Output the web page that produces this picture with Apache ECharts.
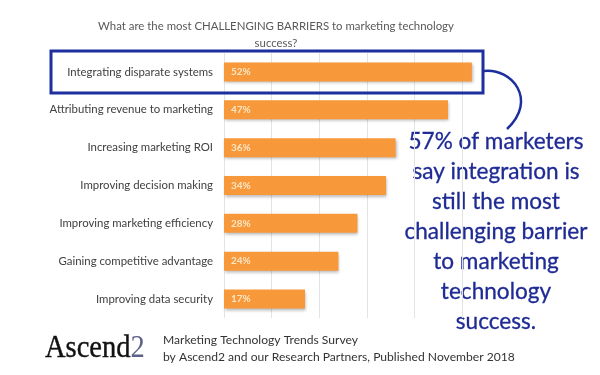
<!DOCTYPE html>
<html>
<head>
<meta charset="utf-8">
<script src="https://cdn.jsdelivr.net/npm/echarts@6/dist/echarts.min.js"></script>
<style>
  html, body { margin: 0; padding: 0; background: #fff; }
  #chart { width: 600px; height: 375px; }
</style>
</head>
<body>
<div id="chart"></div>
<script>
// chart data, top bar first
const categories = [
  "Integrating disparate systems",
  "Attributing revenue to marketing",
  "Increasing marketing ROI",
  "Improving decision making",
  "Improving marketing efficiency",
  "Gaining competitive advantage",
  "Improving data security"
];
const percentValues = [52, 47, 36, 34, 28, 24, 17];
const titleLines = ["What are the most CHALLENGING BARRIERS to marketing technology", "success?"];
const calloutLines = [
  "57% of marketers",
  "say integration is",
  "still the most",
  "challenging barrier",
  "to marketing",
  "technology",
  "success."
];
const footerLines = [
  "Marketing Technology Trends Survey",
  "by Ascend2 and our Research Partners, Published November 2018"
];

const chart = echarts.init(document.getElementById("chart"));
const BLUE = "#1d2e9e";
const TEXT_BLUE = "#1f2b95";
const gridLines = ["#e3e3e3", "#e3e3e3", "#e3e3e3", "#e3e3e3", "#e3e3e3", "#e3e3e3", "rgba(0,0,0,0)"];

const option = {
  backgroundColor: "#fff",
  animation: false,
  title: {
    text: titleLines.join("\n"),
    left: 276,
    top: 18,
    padding: 0,
    textAlign: "center",
    textStyle: {
      fontFamily: "Lato",
      fontSize: 11.4,
      fontWeight: "normal",
      color: "#595959",
      lineHeight: 17
    }
  },
  grid: { left: 224, right: 90, top: 53, bottom: 57 },
  xAxis: {
    type: "value",
    min: 0,
    max: 60,
    interval: 10,
    axisLabel: { show: false },
    axisLine: { show: false },
    axisTick: { show: false },
    splitLine: { lineStyle: { color: gridLines, width: 1 } }
  },
  yAxis: {
    type: "category",
    inverse: true,
    data: categories,
    axisLine: { show: false },
    axisTick: { show: false },
    axisLabel: {
      margin: 11,
      fontFamily: "Lato",
      fontSize: 11.4,
      color: "#404040"
    }
  },
  series: [{
    type: "bar",
    data: percentValues,
    barWidth: 19,
    itemStyle: {
      color: "#f7983b",
      shadowColor: "rgba(0,0,0,0.28)",
      shadowBlur: 3,
      shadowOffsetY: 2,
      shadowOffsetX: 1
    },
    label: {
      show: true,
      position: "insideLeft",
      distance: 7,
      formatter: "{c}%",
      fontFamily: "Lato",
      fontWeight: "bold",
      fontSize: 10,
      color: "#fde6c4"
    }
  }],
  graphic: [
    {
      type: "rect",
      shape: { x: 51, y: 51, width: 432, height: 42 },
      style: { fill: "none", stroke: BLUE, lineWidth: 3 },
      z: 10
    },
    {
      type: "bezierCurve",
      shape: { x1: 484, y1: 71, cpx1: 512, cpy1: 68, cpx2: 538, cpy2: 100, x2: 507, y2: 129 },
      style: { fill: "none", stroke: BLUE, lineWidth: 2.5 },
      z: 10
    },
    {
      type: "text",
      x: 496,
      y: 127,
      style: {
        text: calloutLines.join("\n"),
        textAlign: "center",
        fontFamily: "Lato",
        fontSize: 22.6,
        lineHeight: 30,
        fill: TEXT_BLUE,
        stroke: TEXT_BLUE,
        lineWidth: 0.3
      }
    },
    {
      type: "text",
      x: 45,
      y: 333,
      scaleX: 0.92,
      style: {
        text: "{a|Ascend}{b|2}",
        rich: {
          a: { fontFamily: "Liberation Serif", fontSize: 31, fill: "#111", stroke: "#111", lineWidth: 0.4 },
          b: { fontFamily: "Liberation Serif", fontSize: 31, fill: "#5d6187" }
        }
      }
    },
    {
      type: "text",
      x: 163,
      y: 332,
      style: {
        text: footerLines.join("\n"),
        fontFamily: "Lato",
        fontSize: 12.1,
        lineHeight: 17,
        fill: "#333"
      }
    }
  ]
};
chart.setOption(option);
</script>
</body>
</html>
